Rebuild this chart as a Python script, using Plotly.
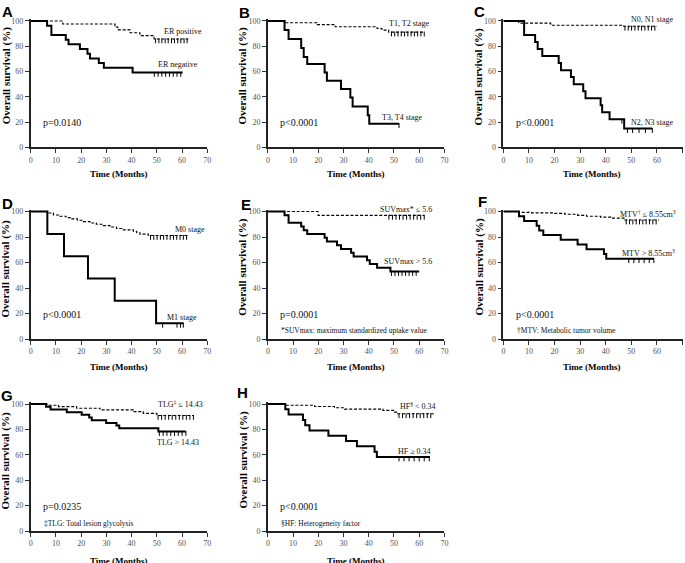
import plotly.graph_objects as go

W, H = 685, 563

# ---- Kaplan-Meier data ---------------------------------------------------
# event times (months) and survival (%) right after each event,
# last follow-up time and censor-tick times per curve

# A: ER status
er_pos_t = [12.7, 33.4, 34.5, 39.4, 43.3, 48.9]
er_pos_s = [97.6, 95.2, 93.0, 90.7, 88.4, 85.8]
er_pos_end = 62.5
er_pos_cens = [49.5, 50.8, 52.0, 53.3, 54.5, 55.8, 57.0, 58.3, 59.5, 60.8, 62.0]
er_neg_t = [6.5, 8.2, 13.9, 15.0, 19.5, 22.5, 23.5, 27.0, 29.0, 40.4]
er_neg_s = [96.3, 88.9, 85.2, 81.5, 77.8, 74.1, 70.4, 66.7, 63.0, 59.3]
er_neg_end = 60.2
er_neg_cens = [49.0, 50.5, 52.0, 53.5, 55.0, 56.5, 58.0, 59.5]

# B: T stage
t12_t = [6.9, 19.5, 26.7, 43.3, 45.2, 47.9]
t12_s = [98.6, 97.1, 95.4, 94.0, 92.8, 91.2]
t12_end = 62.0
t12_cens = [49.0, 50.3, 51.6, 52.9, 54.2, 55.5, 56.8, 58.1, 59.4, 60.7, 62.0]
t34_t = [6.6, 8.2, 13.2, 14.2, 15.6, 22.5, 23.4, 29.0, 32.7, 33.6, 39.6, 40.2]
t34_s = [92.9, 85.7, 78.6, 71.4, 65.9, 59.3, 52.7, 46.1, 39.5, 32.3, 25.4, 18.7]
t34_end = 52.0
t34_cens = [52.0]

# C: N stage
n01_t = [6.0, 18.5, 47.0]
n01_s = [98.3, 96.6, 95.8]
n01_end = 60.0
n01_cens = [47.5, 48.8, 50.1, 51.4, 52.7, 54.0, 55.3, 56.6, 57.9, 59.2]
n23_t = [8.1, 12.4, 13.4, 15.2, 21.6, 22.5, 26.4, 27.5, 31.2, 32.1, 38.0, 38.6, 41.5, 47.2]
n23_s = [88.9, 83.3, 77.8, 72.2, 66.7, 61.1, 55.6, 50.0, 44.4, 38.9, 33.3, 27.8, 22.2, 14.8]
n23_end = 58.2
n23_cens = [46.3, 48.5, 50.5, 53.0, 55.5, 58.2]

# D: M stage
m0_t = [6.9, 9.0, 11.6, 14.0, 16.0, 18.5, 20.9, 23.5, 26.0, 28.7, 31.4, 34.0, 36.7, 40.7, 42.0, 43.3, 46.6]
m0_s = [98.8, 97.3, 96.3, 95.2, 94.2, 93.1, 92.1, 91.0, 90.0, 88.9, 87.8, 86.7, 85.6, 84.5, 83.4, 82.3, 81.2]
m0_end = 62.5
m0_cens = [47.5, 48.8, 50.1, 51.4, 52.7, 54.0, 55.3, 56.6, 57.9, 59.2, 60.5, 61.8]
m1_t = [6.6, 13.2, 22.7, 33.3, 49.7]
m1_s = [82.4, 64.9, 47.4, 30.0, 12.3]
m1_end = 60.5
m1_cens = [52.3, 58.0, 59.4, 60.5]

# E: SUVmax
suvl_t = [19.9]
suvl_s = [97.0]
suvl_end = 62.0
suvl_cens = [48.0, 49.4, 50.8, 52.2, 53.6, 55.0, 56.4, 57.8, 59.2, 60.6, 62.0]
suvh_t = [6.6, 8.2, 13.2, 14.2, 15.6, 22.5, 23.4, 27.4, 29.0, 33.0, 34.0, 39.3, 40.4, 43.3, 48.6]
suvh_s = [97.1, 91.2, 88.2, 85.3, 82.4, 79.4, 76.5, 73.5, 70.6, 67.6, 64.7, 61.8, 58.8, 55.9, 52.9]
suvh_end = 60.0
suvh_cens = [49.0, 50.4, 51.8, 53.2, 54.6, 56.0, 57.4, 58.8]

# F: MTV
mtvl_t = [6.0, 11.0, 20.0, 24.0, 29.0, 32.5, 38.0, 42.3, 47.5]
mtvl_s = [99.3, 98.9, 98.5, 97.8, 97.0, 96.3, 95.6, 94.8, 93.3]
mtvl_end = 60.8
mtvl_cens = [48.0, 49.3, 50.6, 51.9, 53.2, 54.5, 55.8, 57.1, 58.4, 59.7]
mtvh_t = [6.1, 8.1, 13.0, 14.0, 15.6, 22.4, 29.0, 32.5, 39.3, 40.2]
mtvh_s = [96.3, 92.6, 88.9, 85.2, 81.5, 77.8, 74.1, 70.4, 66.7, 63.0]
mtvh_end = 58.8
mtvh_cens = [49.0, 51.0, 53.0, 55.0, 57.0, 58.8]

# G: TLG
tlgl_t = [6.5, 11.0, 18.2, 27.5, 40.7, 44.6, 50.0]
tlgl_s = [99.0, 97.9, 96.7, 95.4, 94.0, 92.6, 91.0]
tlgl_end = 64.7
tlgl_cens = [50.5, 51.9, 53.3, 54.7, 56.1, 57.5, 58.9, 60.3, 61.7, 63.1, 64.5]
tlgh_t = [6.1, 7.9, 14.3, 20.2, 23.2, 24.2, 29.9, 34.0, 35.1, 50.6]
tlgh_s = [97.9, 95.7, 93.6, 91.5, 89.4, 87.2, 85.1, 83.0, 80.9, 78.3]
tlgh_end = 61.5
tlgh_cens = [51.0, 52.5, 54.0, 55.5, 57.0, 58.5, 60.0, 61.5]

# H: heterogeneity factor
hfl_t = [6.9, 18.5, 26.4, 30.4, 45.6, 50.2, 51.5]
hfl_s = [99.0, 98.0, 97.0, 96.0, 95.0, 93.6, 92.3]
hfl_end = 65.8
hfl_cens = [52.0, 53.4, 54.8, 56.2, 57.6, 59.0, 60.4, 61.8, 63.2, 64.6]
hfh_t = [6.9, 8.2, 13.9, 14.8, 16.5, 24.0, 31.0, 35.3, 42.3, 43.2]
hfh_s = [95.8, 91.7, 87.5, 83.3, 79.2, 75.0, 70.8, 66.7, 62.5, 58.3]
hfh_end = 64.3
hfh_cens = [52.0, 54.0, 56.0, 58.0, 60.0, 62.0, 64.0]

x_ticks = [0, 10, 20, 30, 40, 50, 60, 70]
y_ticks = [0, 20, 40, 60, 80, 100]

# ---- panel description ----------------------------------------------------
# (letter, col, row, dashed curve, solid curve, labels, p text, footnote)
# label y values above the axis top get a pixel shift instead
panels = [
    ('A', 0, 0, (er_pos_t, er_pos_s, er_pos_end, er_pos_cens),
     (er_neg_t, er_neg_s, er_neg_end, er_neg_cens),
     [('ER positive', 60.5, 91.3), ('ER negative', 58.4, 65.2)], 'p=0.0140', None),
    ('B', 1, 0, (t12_t, t12_s, t12_end, t12_cens),
     (t34_t, t34_s, t34_end, t34_cens),
     [('T1, T2 stage', 56.1, 97.9), ('T3, T4 stage', 53.2, 23.7)], 'p<0.0001', None),
    ('C', 2, 0, (n01_t, n01_s, n01_end, n01_cens),
     (n23_t, n23_s, n23_end, n23_cens),
     [('N0, N1 stage', 58.2, 101.0), ('N2, N3 stage', 58.1, 19.8)], 'p<0.0001', None),
    ('D', 0, 1, (m0_t, m0_s, m0_end, m0_cens),
     (m1_t, m1_s, m1_end, m1_cens),
     [('M0 stage', 63.0, 86.1), ('M1 stage', 60.0, 16.8)], 'p<0.0001', None),
    ('E', 1, 1, (suvl_t, suvl_s, suvl_end, suvl_cens),
     (suvh_t, suvh_s, suvh_end, suvh_cens),
     [('SUVmax* ≤ 5.6', 54.6, 101.8), ('SUVmax > 5.6', 55.5, 60.7)], 'p=0.0001',
     '*SUVmax: maximum standardized uptake value'),
    ('F', 2, 1, (mtvl_t, mtvl_s, mtvl_end, mtvl_cens),
     (mtvh_t, mtvh_s, mtvh_end, mtvh_cens),
     [('MTV<sup>†</sup> ≤ 8.55cm<sup>3</sup>', 56.5, 98.2),
      ('MTV > 8.55cm<sup>3</sup>', 56.7, 67.1)], 'p<0.0001',
     '†MTV: Metabolic tumor volume'),
    ('G', 0, 2, (tlgl_t, tlgl_s, tlgl_end, tlgl_cens),
     (tlgh_t, tlgh_s, tlgh_end, tlgh_cens),
     [('TLG<sup>‡</sup> ≤ 14.43', 59.3, 99.7), ('TLG > 14.43', 58.3, 69.7)], 'p=0.0235',
     '‡TLG: Total lesion glycolysis'),
    ('H', 1, 2, (hfl_t, hfl_s, hfl_end, hfl_cens),
     (hfh_t, hfh_s, hfh_end, hfh_cens),
     [('HF<sup>§</sup> < 0.34', 59.4, 98.2), ('HF ≥ 0.34', 58.2, 62.5)], 'p<0.0001',
     '§HF: Heterogeneity factor'),
]

# pixel geometry of the grid
col_px = [(30.7, 207.3), (267.9, 444.4), (503.4, 682.5)]
row_px = [(19.1, 147.3), (209.6, 339.0), (402.1, 531.0)]
letter_px = {'A': (7.5, 11.7), 'B': (244, 12), 'C': (479, 11.3), 'D': (7.2, 203.3),
             'E': (245.8, 204), 'F': (482, 201.7), 'G': (7.2, 395), 'H': (242.5, 392.5)}
ytitle_px = [(6, 76.3), (242.3, 76.3), (478.7, 76.7), (5.7, 268.8), (242.3, 267.5),
             (479, 267.5), (5.7, 460.8), (243.8, 459.7)]
xtitle_py = [174, 367, 560.5]

SERIF = 'Liberation Serif'


def km_xy(times, surv, end):
    return [0] + list(times) + [end], [100] + list(surv) + [surv[-1]]


def level_at(times, surv, t):
    level = 100
    for ti, si in zip(times, surv):
        if ti <= t:
            level = si
    return level


def paper_note(text, px, py, size, family, angle=0):
    return dict(text=text, x=px / W, y=1 - py / H, xref='paper', yref='paper',
                xanchor='center', yanchor='middle', textangle=angle, showarrow=False,
                font=dict(family=family, size=size, color='black'))


fig = go.Figure()
annotations = []
layout = {}

for i, (letter, col, row, dashed, solid, labels, ptext, note) in enumerate(panels, start=1):
    xa = 'x' if i == 1 else f'x{i}'
    ya = 'y' if i == 1 else f'y{i}'
    for (times, surv, end, cens), style in ((dashed, 'dash'), (solid, 'solid')):
        x, y = km_xy(times, surv, end)
        fig.add_trace(go.Scatter(
            x=x, y=y, mode='lines', line_shape='hv', xaxis=xa, yaxis=ya,
            line=dict(color='black', width=1.1 if style == 'dash' else 2,
                      dash='3px,1.8px' if style == 'dash' else 'solid'),
            showlegend=False, hoverinfo='skip',
        ))
        fig.add_trace(go.Scatter(
            x=cens, y=[level_at(times, surv, c) - 1.5 for c in cens], mode='markers',
            xaxis=xa, yaxis=ya, cliponaxis=False,
            marker=dict(symbol='line-ns', size=3.5, line=dict(color='black', width=1)),
            showlegend=False, hoverinfo='skip',
        ))

    x0, x1 = col_px[col]
    top, bot = row_px[row]
    key = '' if i == 1 else str(i)
    layout[f'xaxis{key}'] = dict(
        domain=[x0 / W, x1 / W], range=[0, 70], anchor=ya, tickvals=x_ticks,
        ticks='outside', ticklen=4, tickwidth=1, tickcolor='#333',
        showline=True, linewidth=1.5, linecolor='#222', showgrid=False, zeroline=False,
        tickfont=dict(family=SERIF, size=8, color='#555'), fixedrange=True,
    )
    layout[f'yaxis{key}'] = dict(
        domain=[1 - bot / H, 1 - top / H], range=[0, 101.5], anchor=xa, tickvals=y_ticks,
        ticks='outside', ticklen=4, tickwidth=1, tickcolor='#333',
        showline=True, linewidth=1.5, linecolor='#222', showgrid=False, zeroline=False,
        tickfont=dict(family=SERIF, size=8, color='#555'), fixedrange=True,
    )

    px_per_unit = (bot - top) / 101.5
    for text, lx, ly in labels:
        shift = 0
        if ly > 100:
            shift, ly = (ly - 100) * px_per_unit, 100
        annotations.append(dict(text=text, x=lx, y=ly, xref=xa, yref=ya, showarrow=False,
                                yshift=shift, font=dict(family=SERIF, size=8, color='#111')))
    annotations.append(dict(text=ptext, x=4, y=19.3, xref=xa, yref=ya, xanchor='left',
                            showarrow=False, font=dict(family=SERIF, size=10, color='#111')))
    if note:
        annotations.append(dict(text=note, x=4.5, y=6.3, xref=xa, yref=ya, xanchor='left',
                                showarrow=False, font=dict(family=SERIF, size=7.5, color='#111')))

    lx, ly = letter_px[letter]
    annotations.append(paper_note(f'<b>{letter}</b>', lx, ly, 15, 'Liberation Sans'))
    tx, ty = ytitle_px[i - 1]
    annotations.append(paper_note('<b>Overall survival (%)</b>', tx, ty, 11, SERIF, -90))
    annotations.append(paper_note('<b>Time (Months)</b>', x0 + (x1 - x0) / 2 - 0.5,
                                  xtitle_py[row], 9, SERIF))

fig.update_layout(
    template='none', width=W, height=H, margin=dict(l=0, r=0, t=0, b=0),
    paper_bgcolor='white', plot_bgcolor='white',
    annotations=annotations, **layout,
)

# the page's default body margin would push the fixed-size figure off the view
fig.write_html('out.html', config={'displayModeBar': False},
               post_script="document.body.style.margin='0';")
